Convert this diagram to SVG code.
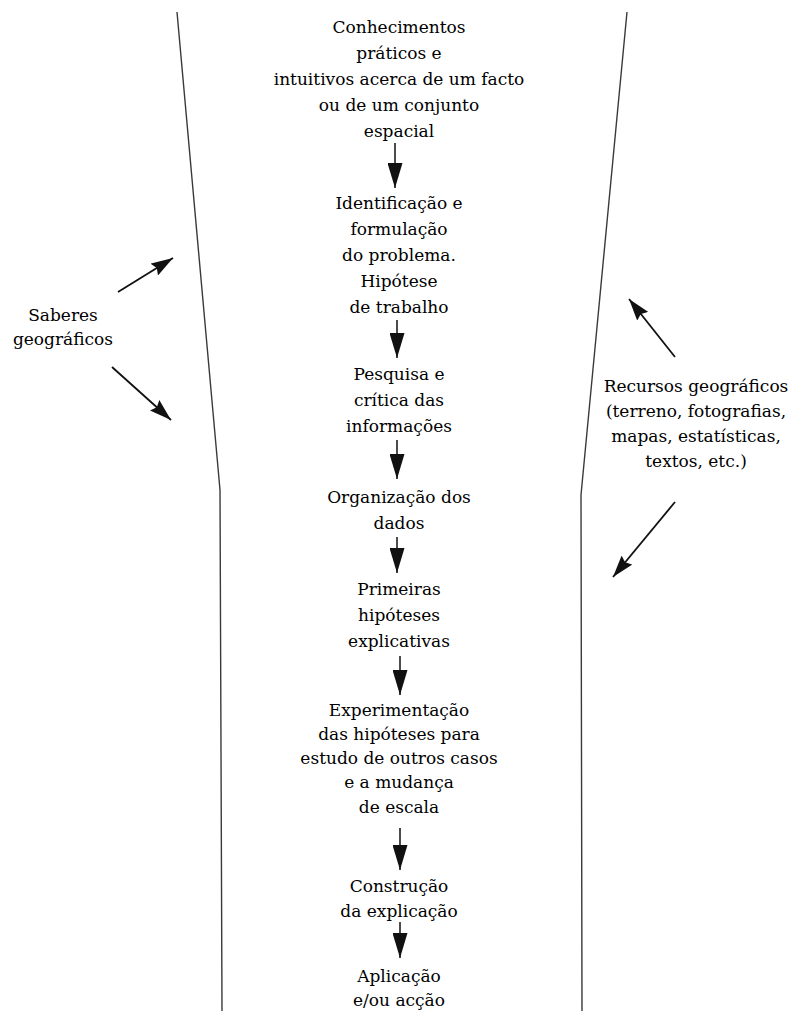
<svg xmlns="http://www.w3.org/2000/svg" width="790" height="1011" viewBox="0 0 790 1011">
<style>
  text { font-family: "DejaVu Serif", "Liberation Serif", serif; font-size: 17px; fill: #000; text-anchor: middle; }
  .wall { fill: none; stroke: #3a3a3a; stroke-width: 1.4; }
  .flow { stroke: #111; stroke-width: 1.5; fill: none; }
  .side { stroke: #111; stroke-width: 1.8; fill: none; }
</style>
<defs>
  <marker id="big" viewBox="0 0 25 15" markerUnits="userSpaceOnUse" markerWidth="25" markerHeight="15" refX="25" refY="7.5" orient="auto">
    <path d="M0,0 L25,7.5 L0,15 z" fill="#111"/>
  </marker>
  <marker id="small" viewBox="0 0 22 14" markerUnits="userSpaceOnUse" markerWidth="22" markerHeight="14" refX="22" refY="7" orient="auto">
    <path d="M0,0 L22,7 L0,14 L3,7 z" fill="#111"/>
  </marker>
</defs>
<rect width="790" height="1011" fill="#fff"/>

<g id="walls">
  <path class="wall" d="M177,12 L220,490 L222,1011"/>
  <path class="wall" d="M627,12 L581,495 L582,1011"/>
</g>

<g id="n1">
  <text x="399" y="33">Conhecimentos</text>
  <text x="399" y="59">práticos e</text>
  <text x="399" y="85">intuitivos acerca de um facto</text>
  <text x="399" y="111">ou de um conjunto</text>
  <text x="399" y="137">espacial</text>
</g>
<g id="n2">
  <text x="399" y="209">Identificação e</text>
  <text x="399" y="235">formulação</text>
  <text x="399" y="261">do problema.</text>
  <text x="399" y="287">Hipótese</text>
  <text x="399" y="313">de trabalho</text>
</g>
<g id="n3">
  <text x="399" y="380">Pesquisa e</text>
  <text x="399" y="406">crítica das</text>
  <text x="399" y="432">informações</text>
</g>
<g id="n4">
  <text x="399" y="503">Organização dos</text>
  <text x="399" y="529">dados</text>
</g>
<g id="n5">
  <text x="399" y="595">Primeiras</text>
  <text x="399" y="621">hipóteses</text>
  <text x="399" y="647">explicativas</text>
</g>
<g id="n6">
  <text x="399" y="716">Experimentação</text>
  <text x="399" y="740">das hipóteses para</text>
  <text x="399" y="764">estudo de outros casos</text>
  <text x="399" y="788">e a mudança</text>
  <text x="399" y="813">de escala</text>
</g>
<g id="n7">
  <text x="399" y="892">Construção</text>
  <text x="399" y="917">da explicação</text>
</g>
<g id="n8">
  <text x="399" y="982">Aplicação</text>
  <text x="399" y="1006">e/ou acção</text>
</g>
<g id="saberes">
  <text x="63" y="321">Saberes</text>
  <text x="63" y="345">geográficos</text>
</g>
<g id="recursos">
  <text x="696" y="392">Recursos geográficos</text>
  <text x="696" y="417">(terreno, fotografias,</text>
  <text x="696" y="442">mapas, estatísticas,</text>
  <text x="696" y="467">textos, etc.)</text>
</g>

<g id="connectors">
  <line class="flow" x1="395" y1="143" x2="395" y2="188" marker-end="url(#big)"/>
  <line class="flow" x1="397" y1="320" x2="397" y2="358" marker-end="url(#big)"/>
  <line class="flow" x1="397" y1="440" x2="397" y2="479" marker-end="url(#big)"/>
  <line class="flow" x1="397" y1="537" x2="397" y2="573" marker-end="url(#big)"/>
  <line class="flow" x1="400" y1="656" x2="400" y2="695" marker-end="url(#big)"/>
  <line class="flow" x1="400" y1="828" x2="400" y2="870" marker-end="url(#big)"/>
  <line class="flow" x1="400" y1="922" x2="400" y2="958" marker-end="url(#big)"/>
  <line class="side" x1="118" y1="292" x2="173" y2="258" marker-end="url(#small)"/>
  <line class="side" x1="112" y1="367" x2="171" y2="420" marker-end="url(#small)"/>
  <line class="side" x1="675" y1="357" x2="629" y2="299" marker-end="url(#small)"/>
  <line class="side" x1="675" y1="502" x2="613" y2="577" marker-end="url(#small)"/>
</g>
</svg>
